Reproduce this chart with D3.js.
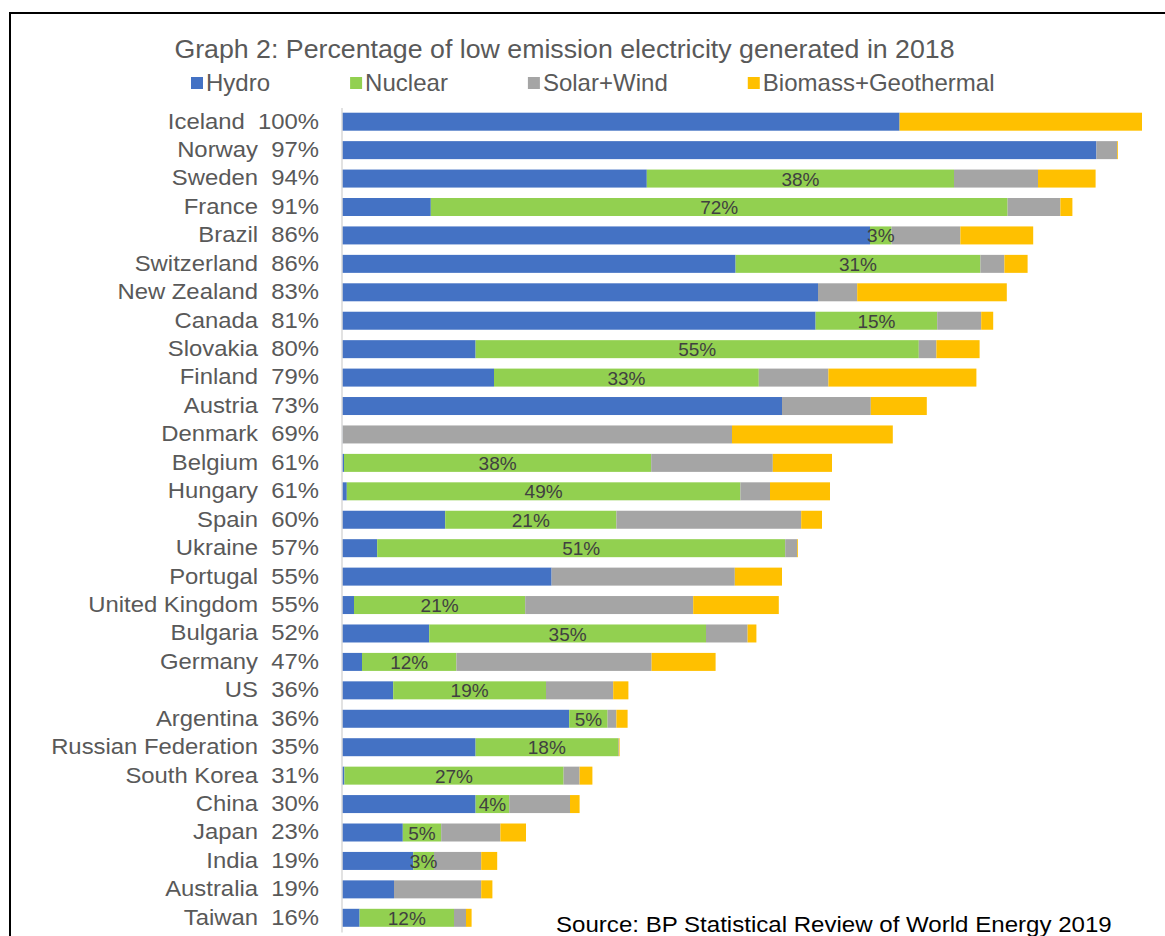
<!DOCTYPE html>
<html>
<head>
<meta charset="utf-8">
<script src="https://cdn.jsdelivr.net/npm/d3@7"></script>
<style>
  body { margin: 0; background: #fff; }
  svg text { font-family: "Liberation Sans", Arial, sans-serif; }
</style>
</head>
<body>
<script>
// values (% of electricity generated)
var countries = ["Iceland", "Norway", "Sweden", "France", "Brazil", "Switzerland", "New Zealand",
  "Canada", "Slovakia", "Finland", "Austria", "Denmark", "Belgium", "Hungary", "Spain", "Ukraine",
  "Portugal", "United Kingdom", "Bulgaria", "Germany", "US", "Argentina", "Russian Federation",
  "South Korea", "China", "Japan", "India", "Australia", "Taiwan"];
var totals = [100, 97, 94, 91, 86, 86, 83, 81, 80, 79, 73, 69, 61, 61, 60, 57, 55, 55, 52, 47,
  36, 36, 35, 31, 30, 23, 19, 19, 16];
var hydro = [69.7, 94.3, 38.1, 11.1, 66.0, 49.2, 59.5, 59.2, 16.7, 19.0, 55.0, 0.05, 0.25, 0.6,
  12.9, 4.4, 26.2, 1.5, 10.9, 2.5, 6.4, 28.4, 16.7, 0.3, 16.7, 7.6, 8.9, 6.5, 2.2];
var nuclear = [0, 0, 38.4, 72.1, 2.7, 30.6, 0, 15.2, 55.4, 33.1, 0, 0, 38.4, 49.2, 21.4, 51.0,
  0, 21.4, 34.6, 11.8, 19.1, 4.8, 17.8, 27.4, 4.2, 4.8, 2.6, 0, 11.8];
var solarWind = [0, 2.6, 10.5, 6.6, 8.6, 3.0, 4.9, 5.5, 2.2, 8.7, 11.1, 48.7, 15.2, 3.7, 23.1,
  1.5, 22.9, 21.0, 5.2, 24.4, 8.4, 1.1, 0.1, 2.0, 7.6, 7.4, 5.9, 10.9, 1.5];
var biomass = [30.3, 0.1, 7.2, 1.5, 9.1, 2.9, 18.7, 1.5, 5.4, 18.5, 7.0, 20.1, 7.4, 7.5, 2.6,
  0.1, 5.9, 10.7, 1.1, 8.0, 1.9, 1.4, 0.1, 1.6, 1.2, 3.2, 2.0, 1.4, 0.7];
var seriesNames = ["Hydro", "Nuclear", "Solar+Wind", "Biomass+Geothermal"];
var seriesColors = ["#4472C4", "#92D050", "#A5A5A5", "#FFC000"];

var width = 1165;
var height = 936;
var svg = d3.select("body")
    .append("svg")
    .attr("width", width)
    .attr("height", height);

// outer frame, runs off the right and bottom edges
svg.append("rect")
    .attr("x", 10)
    .attr("y", 13)
    .attr("width", 1200)
    .attr("height", 1000)
    .attr("fill", "none")
    .attr("stroke", "#000")
    .attr("stroke-width", 2);

var rows = countries.map((c, i) => ({
    country: c,
    Hydro: hydro[i],
    Nuclear: nuclear[i],
    "Solar+Wind": solarWind[i],
    "Biomass+Geothermal": biomass[i]
}));

var x = d3.scaleLinear().domain([0, 100]).range([342, 1142]);
var y = d3.scaleBand().domain(countries).range([107.5, 932])
    .paddingInner(0.367).paddingOuter(0.183);

var stack = d3.stack().keys(seriesNames)(rows);

var layers = svg.append("g")
    .selectAll("g")
    .data(stack)
    .join("g")
    .attr("fill", (d, i) => seriesColors[i]);

layers.selectAll("rect")
    .data(d => d)
    .join("rect")
    .attr("x", d => x(d[0]))
    .attr("y", d => y(d.data.country))
    .attr("width", d => x(d[1]) - x(d[0]))
    .attr("height", y.bandwidth());

// data labels on the nuclear segments
svg.append("g")
    .selectAll("text")
    .data(stack[1].filter(d => d[1] - d[0] > 0))
    .join("text")
    .attr("x", d => (x(d[0]) + x(d[1])) / 2)
    .attr("y", d => y(d.data.country) + y.bandwidth() / 2)
    .attr("dy", "0.37em")
    .attr("text-anchor", "middle")
    .attr("fill", "#404040")
    .attr("font-size", 19)
    .text(d => Math.round(d[1] - d[0]) + "%");

// category axis with country + total labels (text is a bit wide in the original)
var labelStretch = 1.11;
var axis = svg.append("g")
    .attr("transform", "translate(341.5,0)")
    .call(d3.axisLeft(y)
        .tickSize(0)
        .tickPadding(22.5 / labelStretch)
        .tickFormat((d, i) => d + "  " + totals[i] + "%"));
axis.select(".domain").attr("stroke", "#D9D9D9").attr("stroke-width", 1.5);
axis.selectAll("text")
    .attr("font-size", 21.5)
    .attr("fill", "#595959")
    .attr("transform", `scale(${labelStretch},1)`)
    .style("font-family", "'Liberation Sans', Arial, sans-serif")
    .style("white-space", "pre");

svg.append("text")
    .attr("transform", "translate(564.5,58) scale(1.07,1)")
    .attr("text-anchor", "middle")
    .attr("font-size", 25)
    .attr("fill", "#595959")
    .text("Graph 2: Percentage of low emission electricity generated in 2018");

// legend
var legendStretch = 1.045;
var legend = svg.append("g");
var lx = 191;
seriesNames.forEach((name, i) => {
    legend.append("rect")
        .attr("x", lx)
        .attr("y", 77)
        .attr("width", 12)
        .attr("height", 12)
        .attr("fill", seriesColors[i]);
    var t = legend.append("text")
        .attr("transform", `translate(${lx + 15},91) scale(${legendStretch},1)`)
        .attr("font-size", 23)
        .attr("fill", "#595959")
        .text(name);
    lx += 15 + t.node().getComputedTextLength() * legendStretch + 80;
});

svg.append("text")
    .attr("transform", "translate(556,932) scale(1.07,1)")
    .attr("font-size", 22.5)
    .attr("fill", "#000")
    .text("Source: BP Statistical Review of World Energy 2019");
</script>
</body>
</html>
